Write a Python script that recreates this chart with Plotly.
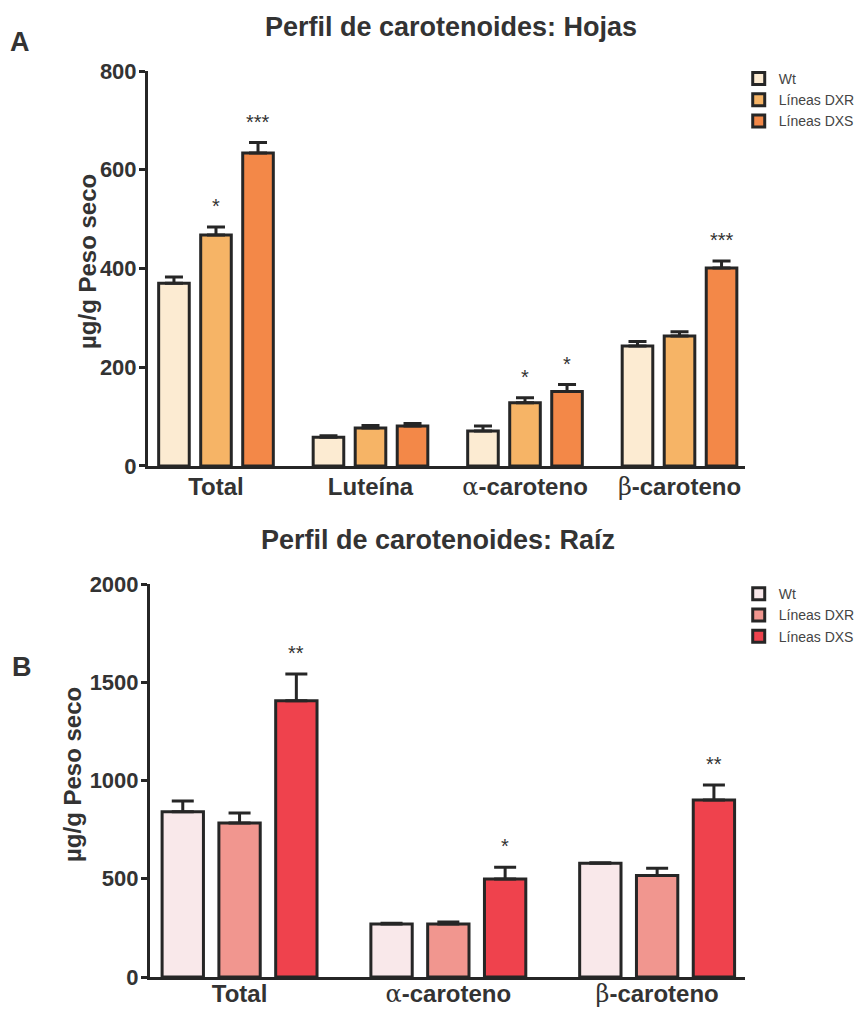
import plotly.graph_objects as go

# --- datos: hojas (panel A) ---
categorias_hojas = ["Total", "Luteína", "α-caroteno", "β-caroteno"]
series = ["Wt", "Líneas DXR", "Líneas DXS"]

hojas_wt = [370, 58, 71, 243]
hojas_dxr = [468, 77, 128, 263]
hojas_dxs = [634, 81, 151, 401]
hojas_wt_err = [13, 3, 10, 9]
hojas_dxr_err = [16, 5, 10, 9]
hojas_dxs_err = [21, 5, 14, 14]
hojas_sig_wt = ["", "", "", ""]
hojas_sig_dxr = ["*", "", "*", ""]
hojas_sig_dxs = ["***", "", "*", "***"]

# --- datos: raíz (panel B) ---
categorias_raiz = ["Total", "α-caroteno", "β-caroteno"]
raiz_wt = [841, 270, 579]
raiz_dxr = [784, 270, 516]
raiz_dxs = [1406, 499, 901]
raiz_wt_err = [55, 4, 3]
raiz_dxr_err = [51, 10, 37]
raiz_dxs_err = [136, 59, 76]
raiz_sig_wt = ["", "", ""]
raiz_sig_dxr = ["", "", ""]
raiz_sig_dxs = ["**", "*", "**"]

ticks_hojas = [0, 200, 400, 600, 800]
ticks_raiz = [0, 500, 1000, 1500, 2000]

colores_hojas = ["#FCEBD2", "#F6B466", "#F38848"]
colores_raiz = ["#F9E8EA", "#F1968F", "#EF424D"]

FONT = "Liberation Sans, Arial, sans-serif"
INK = "#262626"
TEXT = "#333333"
PASO = 0.272      # separación entre barras de un grupo (unidades de categoría)
ANCHO = 0.198     # ancho de cada barra


def etiqueta(cat):
    # letras griegas en fuente serif, como en el símbolo original
    if cat[0] in "αβ":
        return ("<span style='font-family:DejaVu Serif;font-weight:normal'>"
                + cat[0] + "</span>" + cat[1:])
    return cat


fig = go.Figure()
anotaciones = []


def panel(cats, valores, errores, sigs, colores, xa, ya, legend, cap):
    xs = list(range(len(cats)))
    for k, (nombre, vals, errs, sg, col) in enumerate(
            zip(series, valores, errores, sigs, colores)):
        desplaz = (k - 1) * PASO
        fig.add_trace(go.Bar(
            x=xs, y=vals, name=nombre,
            offset=desplaz - ANCHO / 2, width=ANCHO,
            marker=dict(color=col, line=dict(color=INK, width=3)),
            error_y=dict(type="data", array=errs, arrayminus=[0] * len(errs),
                         symmetric=False, color=INK, thickness=3, width=cap),
            xaxis=xa, yaxis=ya, legend=legend,
        ))
        for i, s in enumerate(sg):
            if s:
                anotaciones.append(dict(
                    x=i + desplaz, y=vals[i] + errs[i], text=s,
                    xref=xa, yref=ya, showarrow=False, yanchor="bottom",
                    yshift=8, font=dict(family=FONT, size=20, color=TEXT)))


panel(categorias_hojas, [hojas_wt, hojas_dxr, hojas_dxs],
      [hojas_wt_err, hojas_dxr_err, hojas_dxs_err],
      [hojas_sig_wt, hojas_sig_dxr, hojas_sig_dxs],
      colores_hojas, "x", "y", "legend", 9)
panel(categorias_raiz, [raiz_wt, raiz_dxr, raiz_dxs],
      [raiz_wt_err, raiz_dxr_err, raiz_dxs_err],
      [raiz_sig_wt, raiz_sig_dxr, raiz_sig_dxs],
      colores_raiz, "x2", "y2", "legend2", 11)

eje_x = dict(showline=True, linecolor=INK, linewidth=3, ticks="",
             showgrid=False, zeroline=False, automargin=False,
             tickfont=dict(family=FONT, size=24, color=TEXT, weight="bold"))
eje_y = dict(showline=True, linecolor=INK, linewidth=3, ticks="outside",
             ticklen=6, tickwidth=3, tickcolor=INK, showgrid=False,
             zeroline=False, automargin=False, ticklabelstandoff=-2,
             tickfont=dict(family=FONT, size=22, color=TEXT, weight="bold"))

leyenda = dict(xanchor="left", yanchor="top", bgcolor="rgba(0,0,0,0)",
               tracegroupgap=0,
               font=dict(family=FONT, size=14, color="#444444"))

fig.update_layout(
    width=864, height=1009, margin=dict(l=0, r=0, t=0, b=0, autoexpand=False),
    paper_bgcolor="white", plot_bgcolor="white",
    barmode="overlay", showlegend=True,
    xaxis=dict(eje_x, domain=[0.1713, 0.8623], range=[-0.44, 3.424],
               anchor="y", tickmode="array", tickvals=list(range(4)),
               ticklabelstandoff=-3,
               ticktext=[etiqueta(c) for c in categorias_hojas]),
    yaxis=dict(eje_y, domain=[0.5382, 0.9296], range=[0, 800],
               anchor="x", tickmode="array", tickvals=ticks_hojas),
    xaxis2=dict(eje_x, domain=[0.1736, 0.8623], range=[-0.429, 2.421],
                anchor="y2", tickmode="array", tickvals=list(range(3)),
                ticklabelstandoff=-7,
                ticktext=[etiqueta(c) for c in categorias_raiz]),
    yaxis2=dict(eje_y, domain=[0.0317, 0.4212], range=[0, 2000],
                anchor="x2", tickmode="array", tickvals=ticks_raiz),
    legend=dict(leyenda, x=0.855, y=0.9376),
    legend2=dict(leyenda, x=0.855, y=0.427),
)

titulo = dict(family=FONT, size=27, color=TEXT)
etiq_y = dict(family=FONT, size=24, color=TEXT)


def texto(t, px, py, fuente, angulo=0):
    return dict(text=t, x=px / 864, y=1 - py / 1009, xref="paper", yref="paper",
                xanchor="center", yanchor="middle", textangle=angulo,
                showarrow=False, font=fuente)


anotaciones += [
    texto("<b>Perfil de carotenoides: Hojas</b>", 451, 27, titulo),
    texto("<b>Perfil de carotenoides: Raíz</b>", 438, 540, titulo),
    texto("<b>A</b>", 20, 42, titulo),
    texto("<b>B</b>", 22, 667, titulo),
    texto("<b>µg/g Peso seco</b>", 87, 262, etiq_y, -90),
    texto("<b>µg/g Peso seco</b>", 72, 775, etiq_y, -90),
]
fig.update_layout(annotations=anotaciones)

fig.write_html("out.html")
